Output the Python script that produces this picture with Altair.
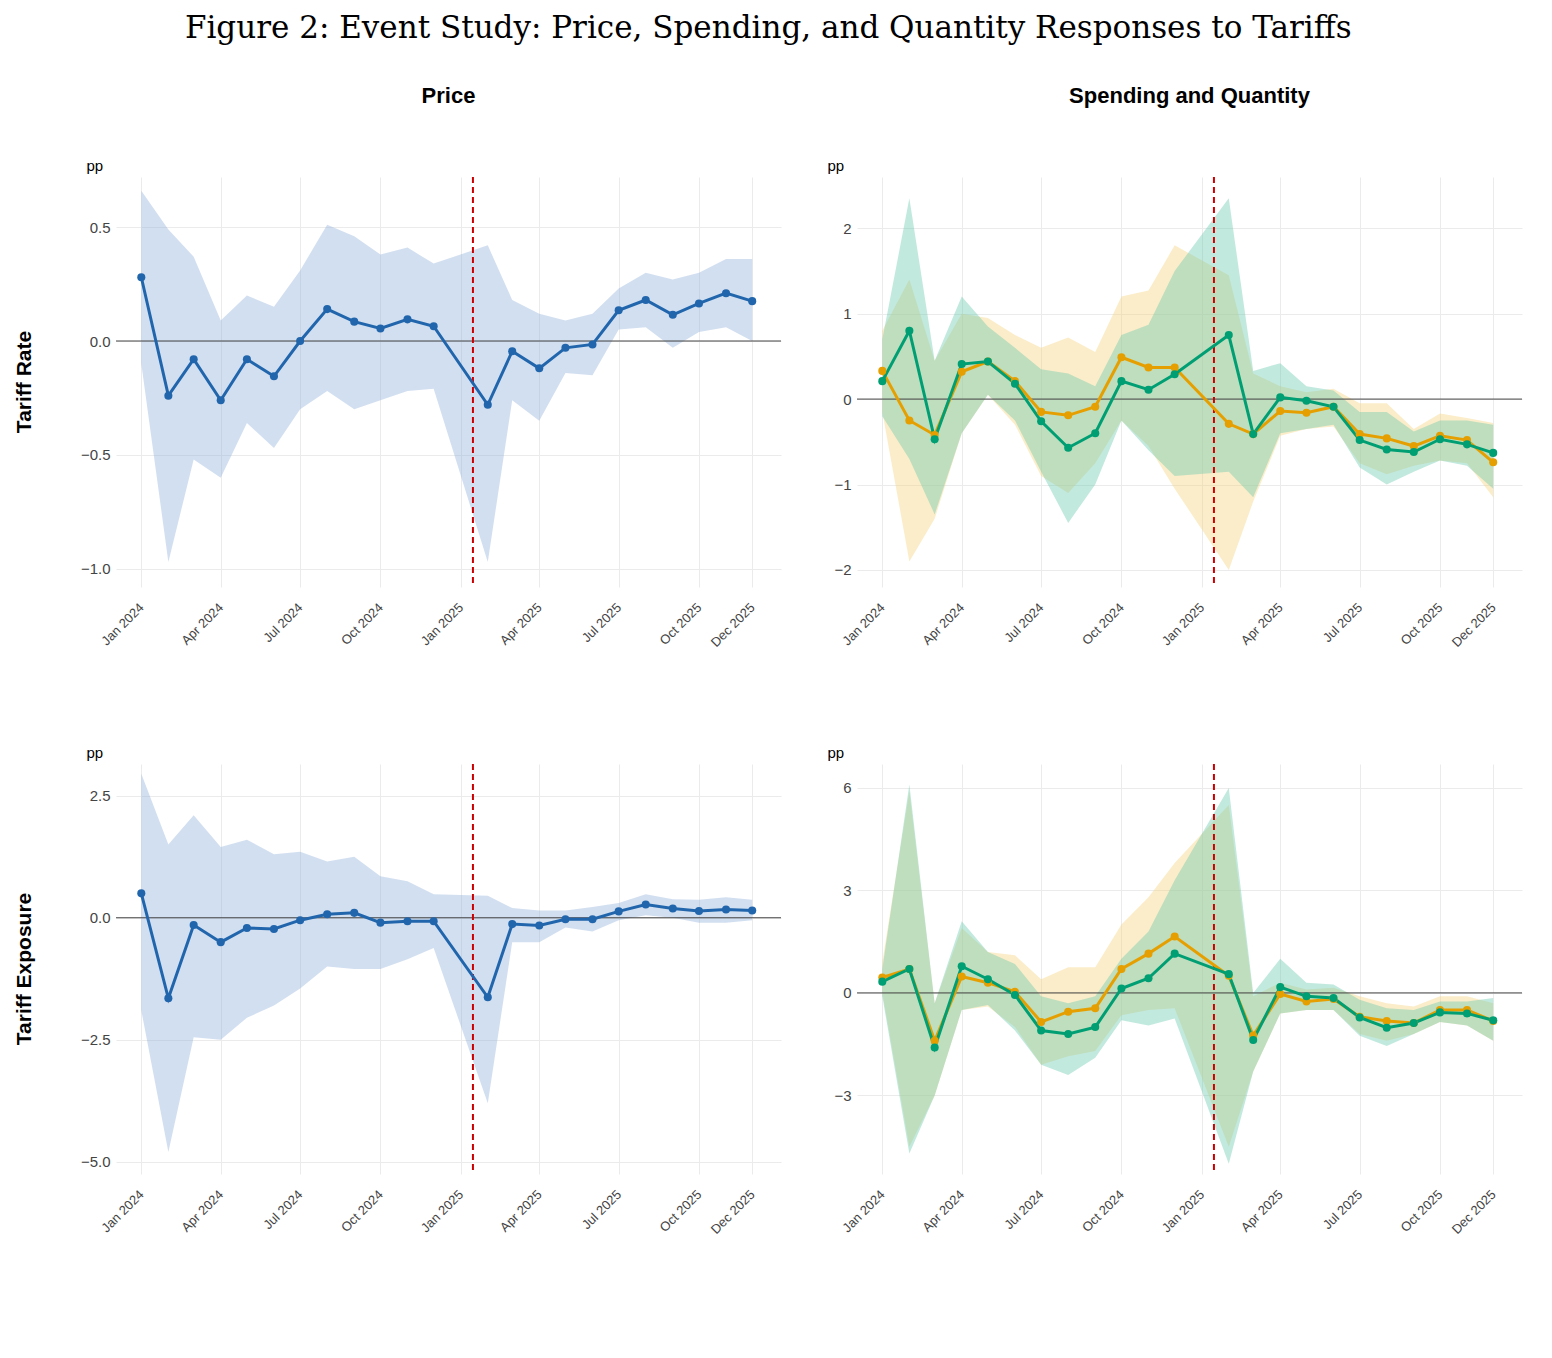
import altair as alt
import pandas as pd

months = ["2024-01-01", "2024-02-01", "2024-03-01", "2024-04-01", "2024-05-01", "2024-06-01",
          "2024-07-01", "2024-08-01", "2024-09-01", "2024-10-01", "2024-11-01", "2024-12-01",
          "2025-02-01", "2025-03-01", "2025-04-01", "2025-05-01", "2025-06-01", "2025-07-01",
          "2025-08-01", "2025-09-01", "2025-10-01", "2025-11-01", "2025-12-01"]

# Tariff Rate, Price
rate_price = [0.28, -0.24, -0.08, -0.26, -0.08, -0.155, 0.0, 0.14, 0.085, 0.055, 0.095, 0.065,
              -0.28, -0.045, -0.12, -0.03, -0.015, 0.135, 0.18, 0.115, 0.165, 0.21, 0.175]
rate_price_hi = [0.66, 0.49, 0.37, 0.09, 0.20, 0.15, 0.31, 0.51, 0.46, 0.38, 0.41, 0.34,
                 0.42, 0.18, 0.12, 0.09, 0.12, 0.23, 0.30, 0.27, 0.30, 0.36, 0.36]
rate_price_lo = [-0.10, -0.97, -0.52, -0.60, -0.36, -0.47, -0.30, -0.22, -0.30, -0.26, -0.22, -0.21,
                 -0.97, -0.26, -0.35, -0.14, -0.15, 0.05, 0.06, -0.03, 0.04, 0.06, 0.0]
# Tariff Rate, Spending / Quantity
rate_spend = [0.33, -0.25, -0.42, 0.32, 0.44, 0.21, -0.15, -0.19, -0.09, 0.49, 0.37, 0.37,
              -0.29, -0.41, -0.14, -0.16, -0.09, -0.41, -0.46, -0.55, -0.43, -0.48, -0.74]
rate_spend_hi = [0.8, 1.4, 0.45, 1.0, 0.95, 0.75, 0.6, 0.72, 0.55, 1.2, 1.27, 1.8,
                 1.45, 0.3, 0.15, 0.08, 0.12, -0.05, -0.05, -0.35, -0.17, -0.22, -0.28]
rate_spend_lo = [-0.15, -1.9, -1.4, -0.4, 0.05, -0.3, -0.9, -1.1, -0.75, -0.25, -0.55, -1.05,
                 -2.0, -1.2, -0.43, -0.35, -0.32, -0.75, -0.88, -0.78, -0.72, -0.75, -1.15]
rate_qty = [0.21, 0.80, -0.47, 0.41, 0.44, 0.18, -0.26, -0.57, -0.40, 0.21, 0.11, 0.29,
            0.75, -0.41, 0.02, -0.02, -0.09, -0.48, -0.59, -0.62, -0.47, -0.53, -0.63]
rate_qty_hi = [0.7, 2.35, 0.45, 1.2, 0.85, 0.6, 0.35, 0.3, 0.15, 0.75, 0.87, 1.5,
               2.35, 0.33, 0.42, 0.15, 0.1, -0.15, -0.15, -0.38, -0.25, -0.25, -0.3]
rate_qty_lo = [-0.2, -0.7, -1.35, -0.4, 0.05, -0.25, -0.85, -1.45, -1.0, -0.25, -0.6, -0.9,
               -0.85, -1.15, -0.4, -0.35, -0.3, -0.8, -1.0, -0.85, -0.72, -0.78, -1.05]
# Tariff Exposure, Price
exp_price = [0.5, -1.65, -0.15, -0.5, -0.21, -0.23, -0.05, 0.07, 0.1, -0.1, -0.07, -0.07,
             -1.63, -0.13, -0.16, -0.03, -0.03, 0.13, 0.27, 0.19, 0.14, 0.17, 0.15]
exp_price_hi = [2.95, 1.5, 2.1, 1.45, 1.6, 1.3, 1.35, 1.15, 1.25, 0.85, 0.75, 0.48,
                0.45, 0.2, 0.15, 0.15, 0.22, 0.3, 0.48, 0.38, 0.37, 0.42, 0.37]
exp_price_lo = [-1.9, -4.8, -2.45, -2.5, -2.05, -1.8, -1.45, -1.0, -1.05, -1.05, -0.85, -0.62,
                -3.8, -0.5, -0.5, -0.2, -0.28, -0.05, 0.05, 0.0, -0.1, -0.1, -0.05]
# Tariff Exposure, Spending / Quantity
exp_spend = [0.45, 0.7, -1.4, 0.48, 0.3, 0.03, -0.85, -0.55, -0.45, 0.7, 1.15, 1.65,
             0.5, -1.25, -0.03, -0.25, -0.18, -0.7, -0.82, -0.88, -0.5, -0.5, -0.82]
exp_spend_hi = [0.9, 5.9, -0.3, 1.9, 1.2, 1.1, 0.4, 0.75, 0.75, 2.0, 2.8, 3.8,
                5.5, -0.1, 0.3, 0.1, 0.15, -0.1, -0.3, -0.4, -0.1, -0.1, -0.3]
exp_spend_lo = [0.0, -4.5, -3.0, -0.5, -0.4, -1.0, -2.1, -1.85, -1.7, -0.65, -0.5, -0.45,
                -4.5, -2.3, -0.6, -0.5, -0.5, -1.2, -1.4, -1.2, -0.85, -0.95, -1.4]
exp_qty = [0.33, 0.7, -1.6, 0.78, 0.4, -0.06, -1.1, -1.2, -1.0, 0.13, 0.43, 1.15,
           0.55, -1.38, 0.17, -0.1, -0.15, -0.72, -1.02, -0.88, -0.57, -0.6, -0.8]
exp_qty_hi = [0.7, 6.1, -0.3, 2.1, 1.2, 0.85, -0.1, -0.3, -0.1, 1.0, 1.8, 3.3,
              6.0, 0.0, 1.0, 0.3, 0.25, -0.2, -0.45, -0.5, -0.25, -0.25, -0.15]
exp_qty_lo = [-0.1, -4.7, -3.0, -0.5, -0.35, -1.1, -2.1, -2.4, -1.9, -0.8, -0.95, -0.75,
              -5.0, -2.3, -0.6, -0.5, -0.5, -1.25, -1.55, -1.2, -0.85, -0.95, -1.4]

tick_dates = ["2024-01-01", "2024-04-01", "2024-07-01", "2024-10-01", "2025-01-01",
              "2025-04-01", "2025-07-01", "2025-10-01", "2025-12-01"]
event_date = "2025-01-15"

series_names = ["Price", "Spending", "Quantity"]
series_colors = ["#2166ac", "#E69F00", "#009E73"]
band_colors = {"Price": "#8fb0d9", "Spending": "#f5d27a", "Quantity": "#66c9ac"}


def frame(name, est, lo, hi):
    return pd.DataFrame({"date": months, "series": name, "est": est, "lo": lo, "hi": hi})


FONT = "Liberation Sans"


def panel(parts, ticks, domain, fmt, title=None):
    df = pd.concat(parts, ignore_index=True)
    xenc = alt.X("date:T", title=None,
                 scale=alt.Scale(domain=["2023-12-03", "2026-01-03"]),
                 axis=alt.Axis(values=[pd.Timestamp(d).value // 10**6 for d in tick_dates],
                               format="%b %Y", labelAngle=-45, labelAlign="right",
                               labelBaseline="middle", labelPadding=18, labelFontSize=13,
                               labelColor="#444", domain=False, ticks=False,
                               gridColor="#ebebeb"))
    yscale = alt.Scale(domain=domain, nice=False, zero=False)
    yaxis = alt.Axis(values=ticks, format=fmt, title="pp", titleAngle=0, titleAlign="left",
                     titleBaseline="bottom", titleX=-30, titleY=-4, titleFontWeight="normal",
                     titleFontSize=15, labelFontSize=15, labelColor="#444",
                     domain=False, ticks=False, gridColor="#ebebeb", labelPadding=6)
    layers = []
    for name in df["series"].unique():
        sub = df[df["series"] == name]
        layers.append(alt.Chart(sub).mark_area(color=band_colors[name], opacity=0.4).encode(
            x=xenc, y=alt.Y("lo:Q", scale=yscale, axis=yaxis), y2="hi:Q"))
    zero = alt.Chart(pd.DataFrame({"z": [0]})).mark_rule(color="#444", strokeWidth=1).encode(
        y=alt.Y("z:Q", scale=yscale))
    event = alt.Chart(pd.DataFrame({"d": [event_date]})).mark_rule(
        color="#cc0000", strokeDash=[6, 4], strokeWidth=2).encode(x="d:T")
    color = alt.Color("series:N", title=None,
                      scale=alt.Scale(domain=series_names, range=series_colors))
    line = alt.Chart(df).mark_line(strokeWidth=3).encode(
        x=xenc, y=alt.Y("est:Q", scale=yscale), color=color, detail="series:N")
    pts = alt.Chart(df).mark_circle(size=65, opacity=1).encode(
        x=xenc, y=alt.Y("est:Q", scale=yscale), color=color)
    ch = alt.layer(*layers, zero, event, line, pts).properties(width=665, height=410)
    if title:
        ch = ch.properties(title=alt.TitleParams(title, fontSize=22, font=FONT,
                                                 fontWeight="bold", offset=50))
    return ch


def row_label(text):
    return alt.Chart(pd.DataFrame({"t": [text]})).mark_text(
        angle=270, fontSize=21, fontWeight="bold", font=FONT, color="black").encode(
        text="t:N", x=alt.value(8), y=alt.value(205)).properties(width=10, height=410)


tl = panel([frame("Price", rate_price, rate_price_lo, rate_price_hi)],
           [-1.0, -0.5, 0.0, 0.5], [-1.08, 0.72], ".1f", "Price")
tr = panel([frame("Spending", rate_spend, rate_spend_lo, rate_spend_hi),
            frame("Quantity", rate_qty, rate_qty_lo, rate_qty_hi)],
           [-2, -1, 0, 1, 2], [-2.2, 2.6], "d", "Spending and Quantity")
bl = panel([frame("Price", exp_price, exp_price_lo, exp_price_hi)],
           [-5.0, -2.5, 0.0, 2.5], [-5.25, 3.15], ".1f")
br = panel([frame("Spending", exp_spend, exp_spend_lo, exp_spend_hi),
            frame("Quantity", exp_qty, exp_qty_lo, exp_qty_hi)],
           [-3, 0, 3, 6], [-5.3, 6.7], "d")

chart = alt.vconcat(
    alt.hconcat(row_label("Tariff Rate"), tl, tr, spacing=45),
    alt.hconcat(row_label("Tariff Exposure"), bl, br, spacing=45),
    spacing=95,
).properties(
    title=alt.TitleParams("Figure 2: Event Study: Price, Spending, and Quantity Responses to Tariffs",
                          font="DejaVu Serif", fontSize=31, fontWeight="normal", anchor="middle",
                          offset=40)
).configure_view(stroke=None).configure_legend(
    orient="none", legendX=520, legendY=1190, direction="horizontal",
    labelFontSize=18, labelFont=FONT, symbolType="stroke",
    symbolStrokeWidth=3, symbolSize=600, columnPadding=25
).configure_axis(labelFont=FONT, titleFont=FONT)

chart.save("out.html", embed_options={"renderer": "svg", "actions": False})
